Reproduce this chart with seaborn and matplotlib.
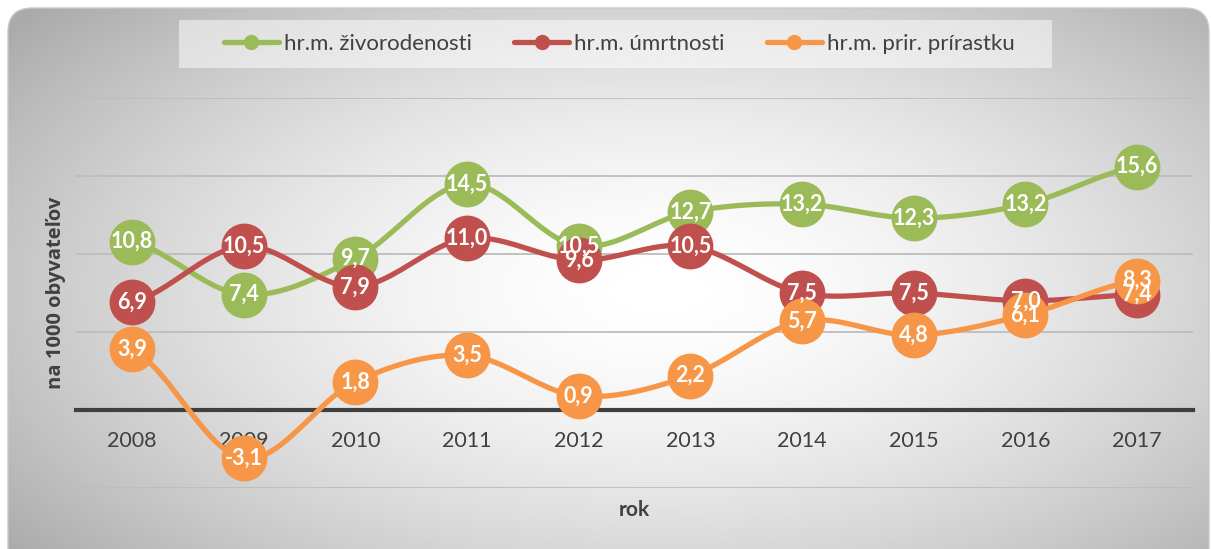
import numpy as np
import pandas as pd
import matplotlib
matplotlib.use("Agg")
import matplotlib.pyplot as plt
from matplotlib.patches import FancyBboxPatch, Rectangle
from matplotlib.lines import Line2D
import seaborn as sns

years = ["2008", "2009", "2010", "2011", "2012", "2013", "2014", "2015", "2016", "2017"]
zivorodenost = [10.8, 7.4, 9.7, 14.5, 10.5, 12.7, 13.2, 12.3, 13.2, 15.6]
umrtnost = [6.9, 10.5, 7.9, 11.0, 9.6, 10.5, 7.5, 7.5, 7.0, 7.4]
prirastok = [3.9, -3.1, 1.8, 3.5, 0.9, 2.2, 5.7, 4.8, 6.1, 8.3]
series_names = ["hr.m. živorodenosti", "hr.m. úmrtnosti", "hr.m. prir. prírastku"]
colors = ["#9BBB59", "#C0504D", "#F79646"]
y_label = "na 1000 obyvateľov"
x_label = "rok"

sns.set_style("white")
plt.rcParams["font.family"] = ["Lato", "DejaVu Sans"]

W, H = 1211, 549
fig = plt.figure(figsize=(W / 100, H / 100), dpi=100)
fig.patch.set_facecolor("white")

# background rounded panel with radial gradient
bg = fig.add_axes([0, 0, 1, 1], zorder=-10)
bg.set_xlim(0, W)
bg.set_ylim(H, 0)
bg.axis("off")
gx, gy = np.meshgrid(np.linspace(0, W, 400), np.linspace(0, H, 200))
r = np.sqrt(((gx - 660) / 640) ** 2 + ((gy - 290) / 330) ** 2)
val = np.clip(1.0 - 0.22 * np.clip(r, 0, 1.3) ** 1.6, 0, 1)
im = bg.imshow(val, cmap="gray", vmin=0, vmax=1, extent=[0, W, H, 0], aspect="auto", interpolation="bilinear")
panel = FancyBboxPatch((8, 8), W - 10, H + 20, boxstyle="round,pad=0,rounding_size=24",
                       transform=bg.transData, facecolor="none", edgecolor="#c8c8c8", lw=1.0)
bg.add_patch(panel)
im.set_clip_path(panel)
# legend backdrop
bg.add_patch(Rectangle((179, 20), 873, 48, facecolor="white", alpha=0.5, edgecolor="none"))

# main axes
x0, x1, ytop, ybot = 76, 1193, 98, 488
ax = fig.add_axes([x0 / W, 1 - ybot / H, (x1 - x0) / W, (ybot - ytop) / H])
ax.set_facecolor("none")

xi = np.arange(len(years))


def catmull(xv, yv, n=24):
    xv = np.asarray(xv, float)
    yv = np.asarray(yv, float)
    px = np.concatenate([[2 * xv[0] - xv[1]], xv, [2 * xv[-1] - xv[-2]]])
    py = np.concatenate([[yv[0]], yv, [yv[-1]]])
    outx, outy = [], []
    t = np.linspace(0, 1, n, endpoint=False)
    for i in range(1, len(px) - 2):
        p0x, p1x, p2x, p3x = px[i - 1:i + 3]
        p0y, p1y, p2y, p3y = py[i - 1:i + 3]
        c1x, c1y = p1x + (p2x - p0x) / 6, p1y + (p2y - p0y) / 6
        c2x, c2y = p2x - (p3x - p1x) / 6, p2y - (p3y - p1y) / 6
        bx = (1 - t) ** 3 * p1x + 3 * (1 - t) ** 2 * t * c1x + 3 * (1 - t) * t ** 2 * c2x + t ** 3 * p2x
        by = (1 - t) ** 3 * p1y + 3 * (1 - t) ** 2 * t * c1y + 3 * (1 - t) * t ** 2 * c2y + t ** 3 * p2y
        outx.extend(bx)
        outy.extend(by)
    outx.append(xv[-1])
    outy.append(yv[-1])
    return np.array(outx), np.array(outy)


all_series = [zivorodenost, umrtnost, prirastok]
for k, (vals, col) in enumerate(zip(all_series, colors)):
    sx, sy = catmull(xi, vals)
    sdf = pd.DataFrame({"x": sx, "y": sy})
    sns.lineplot(data=sdf, x="x", y="y", sort=False, estimator=None, ax=ax,
                 color=col, lw=3.8, zorder=3 + 2 * k, solid_capstyle="round")
    pdf = pd.DataFrame({"x": xi, "y": vals})
    sns.scatterplot(data=pdf, x="x", y="y", ax=ax, color=col, s=33 ** 2,
                    linewidth=0, zorder=4 + 2 * k, clip_on=False)

for vals in all_series:
    for xx, v in zip(xi, vals):
        ax.text(xx, v, f"{v:.1f}".replace(".", ","), ha="center", va="center",
                color="white", fontsize=15.5, fontweight="bold", zorder=20)

ax.set_xlim(-0.5, len(years) - 0.5)
ax.set_ylim(-5, 20)
ax.set_yticks([-5, 0, 5, 10, 15, 20])
ax.set_yticklabels([])
ax.set_xticks(xi)
ax.set_xticklabels(years)
ax.grid(axis="y", color="#bdbdbd", lw=1.3)
ax.grid(axis="x", visible=False)
ax.set_axisbelow(True)
for s in ["top", "right", "left"]:
    ax.spines[s].set_visible(False)
ax.spines["bottom"].set_position(("data", 0))
ax.spines["bottom"].set_color("#3f3f3f")
ax.spines["bottom"].set_linewidth(3.0)
ax.spines["bottom"].set_zorder(2.5)
ax.tick_params(axis="x", length=0, pad=15, labelsize=15.5, labelcolor="#404040")
ax.tick_params(axis="y", length=0)

ax.set_xlabel(x_label, fontsize=15, fontweight="bold", color="#404040")
ax.xaxis.set_label_coords(0.5, -0.03)
ax.set_ylabel(y_label, fontsize=14.5, fontweight="bold", color="#404040",
              family=["Open Sans", "DejaVu Sans"])
ax.yaxis.set_label_coords(-0.009, 0.5)

handles = [Line2D([0], [0], color=c, lw=3.8, marker="o", markersize=10, solid_capstyle="round")
           for c in colors]
leg = fig.legend(handles, series_names, loc="center", bbox_to_anchor=(619 / W, 1 - 44 / H),
                 ncol=3, frameon=False, fontsize=16, handlelength=2.5,
                 handletextpad=0.2, columnspacing=1.9, borderpad=0.3)
for t in leg.get_texts():
    t.set_color("#404040")

fig.savefig("out.png", dpi=100)
